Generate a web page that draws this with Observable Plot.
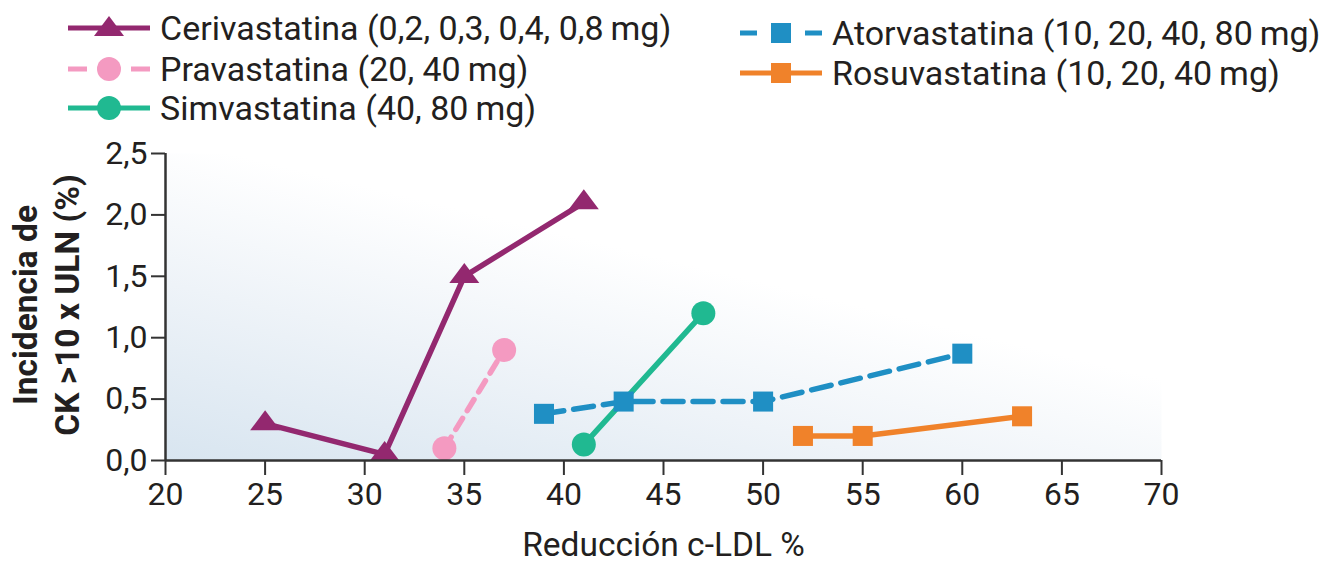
<!DOCTYPE html>
<html><head><meta charset="utf-8">
<script src="https://cdn.jsdelivr.net/npm/d3@7"></script>
<script src="https://cdn.jsdelivr.net/npm/@observablehq/plot@0.6"></script>
<style>
body{margin:0;background:#fff;font-family:Roboto,sans-serif;}
#wrap{position:relative;width:1321px;height:564px;overflow:hidden}
.item{position:absolute;display:flex;align-items:center;font-size:34px;color:#231f20;height:40px;white-space:nowrap}
.item svg{margin-right:10px;flex:none}
#chart{position:absolute;left:0;top:140px}
</style></head>
<body><div id="wrap"><div id="legend"></div><div id="chart"></div></div>
<script>
// ---- data ----
const seriesNames = ["Cerivastatina", "Pravastatina", "Simvastatina", "Atorvastatina", "Rosuvastatina"];
const seriesLabels = [
  "Cerivastatina (0,2, 0,3, 0,4, 0,8\u2009mg)",
  "Pravastatina (20, 40\u2009mg)",
  "Simvastatina (40, 80\u2009mg)",
  "Atorvastatina (10, 20, 40, 80\u2009mg)",
  "Rosuvastatina (10, 20, 40\u2009mg)"
];
const cerivastatinaX = [25, 31, 35, 41];
const cerivastatinaY = [0.3, 0.05, 1.5, 2.1];
const pravastatinaX = [34, 37];
const pravastatinaY = [0.1, 0.9];
const simvastatinaX = [41, 47];
const simvastatinaY = [0.13, 1.2];
const atorvastatinaX = [39, 43, 50, 60];
const atorvastatinaY = [0.38, 0.48, 0.48, 0.87];
const rosuvastatinaX = [52, 55, 63];
const rosuvastatinaY = [0.2, 0.2, 0.36];
const xTicks = [20, 25, 30, 35, 40, 45, 50, 55, 60, 65, 70];
const yTicks = [0, 0.5, 1.0, 1.5, 2.0, 2.5];
const xLabel = "Reducción c-LDL %";
const yLabel = "Incidencia de\nCK >10 x ULN (%)";

// ---- styles ----
const colors = ["#93286f", "#f49ac1", "#20b991", "#1f8fc4", "#f0822a"];
const dashes = [null, "13,9", null, "20,10", null];
const legendDashes = [null, "19,44,19", null, "17,48,17", null];
const symbolKinds = ["triangle", "circle", "circle", "square", "square"];

const xs = [cerivastatinaX, pravastatinaX, simvastatinaX, atorvastatinaX, rosuvastatinaX];
const ys = [cerivastatinaY, pravastatinaY, simvastatinaY, atorvastatinaY, rosuvastatinaY];

const flatTriangle = {
  draw(context, size) {
    const r = Math.sqrt(size / Math.PI);
    context.moveTo(0, -1.33 * r);
    context.lineTo(1.5 * r, 0.67 * r);
    context.lineTo(-1.5 * r, 0.67 * r);
    context.closePath();
  }
};
const symbolFor = k => k === "triangle" ? flatTriangle : k;
const rFor = k => k === "triangle" ? 10 : k === "circle" ? 12 : 11.3;

const rows = seriesNames.map((s, i) => xs[i].map((x, j) => ({serie: s, x, y: ys[i][j]})));

const marks = [
  Plot.frame({fill: "url(#bg)", stroke: null}),
];
rows.forEach((data, i) => {
  marks.push(Plot.line(data, {x: "x", y: "y", stroke: colors[i], strokeWidth: 5.5, strokeDasharray: dashes[i] || undefined}));
});
rows.forEach((data, i) => {
  marks.push(Plot.dot(data, {x: "x", y: "y", fill: colors[i], stroke: null, r: rFor(symbolKinds[i]), symbol: symbolFor(symbolKinds[i])}));
});
marks.push(
  Plot.ruleY([0], {stroke: "#333", strokeWidth: 2.5}),
  Plot.ruleX([20], {y1: 0, y2: 2.5, stroke: "#333", strokeWidth: 2.5}),
  Plot.axisX({ticks: xTicks, tickSize: 15, tickPadding: 7, strokeWidth: 2, stroke: "#333", fontSize: 32, fill: "#231f20", label: null, tickFormat: d => String(d)}),
  Plot.axisY({ticks: yTicks, tickSize: 14, tickPadding: 4, strokeWidth: 2, stroke: "#333", fontSize: 32, fill: "#231f20", label: null, tickFormat: d => d.toFixed(1).replace(".", ",")}),
  Plot.text([xLabel], {frameAnchor: "bottom", dy: 85, lineAnchor: "middle", fontSize: 33.5, fill: "#231f20", text: d => d}),
  Plot.text([yLabel], {frameAnchor: "left", dx: -121, dy: -2, rotate: -90, textAnchor: "middle", lineAnchor: "middle", lineHeight: 1.25, fontSize: 33.5, fontWeight: "bold", fill: "#231f20", text: d => d})
);

const chart = Plot.plot({
  width: 1321, height: 424,
  marginLeft: 165, marginRight: 160, marginTop: 13, marginBottom: 104,
  style: {fontFamily: "Roboto, sans-serif", fontSize: "32px", background: "transparent", overflow: "visible"},
  x: {domain: [20, 70], axis: null},
  y: {domain: [0, 2.5], axis: null},
  marks
});
d3.select(chart).insert("defs", ":first-child").html(
  `<linearGradient id="bg" gradientUnits="userSpaceOnUse" x1="165" y1="320" x2="239" y2="15">
     <stop offset="0" stop-color="#d8e5f0"/><stop offset="0.55" stop-color="#eef3f8"/><stop offset="1" stop-color="#ffffff"/>
   </linearGradient>`);
document.getElementById("chart").appendChild(chart);

// ---- legend ----
const legendPos = [[68, 28], [68, 69], [68, 108], [740, 33], [740, 73]];
const legend = document.getElementById("legend");
seriesNames.forEach((s, i) => {
  const div = document.createElement("div");
  div.className = "item";
  div.style.left = legendPos[i][0] + "px";
  div.style.top = (legendPos[i][1] - 20) + "px";
  const k = symbolKinds[i];
  let marker;
  if (k === "triangle") marker = `<path d="M41,8 L56,28 L26,28 Z" fill="${colors[i]}"/>`;
  else if (k === "circle") marker = `<circle cx="41" cy="20" r="12" fill="${colors[i]}"/>`;
  else marker = `<rect x="31" y="10" width="20" height="20" fill="${colors[i]}"/>`;
  const dash = legendDashes[i] ? ` stroke-dasharray="${legendDashes[i]}"` : "";
  div.innerHTML = `<svg width="82" height="40"><line x1="0" y1="20" x2="82" y2="20" stroke="${colors[i]}" stroke-width="5"${dash}/>${marker}</svg><span>${seriesLabels[i]}</span>`;
  legend.appendChild(div);
});
</script>
</body></html>
